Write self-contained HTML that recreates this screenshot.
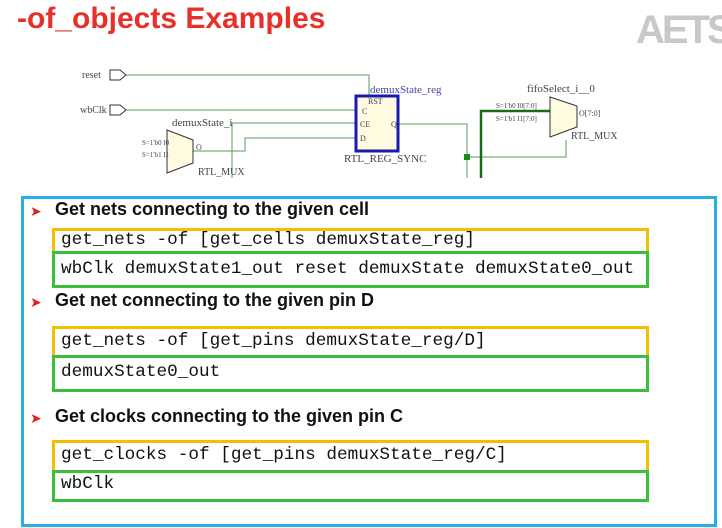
<!DOCTYPE html>
<html><head><meta charset="utf-8"><style>
html,body{margin:0;padding:0;background:#fff;width:722px;height:528px;overflow:hidden;position:relative;font-family:"Liberation Sans",sans-serif}
.t{position:absolute;left:17px;top:2px;font-size:30px;font-weight:bold;color:#e8302a;letter-spacing:0px}
.logo{position:absolute;left:636px;top:8px;font-size:40px;font-weight:bold;color:#c8c8c8;letter-spacing:-3px}
.outer{position:absolute;left:21px;top:196px;width:690px;height:325px;border:3px solid #2aaee8;box-sizing:content-box}
.h{position:absolute;left:55px;font-size:18px;font-weight:bold;color:#111;letter-spacing:0px}
.ar{position:absolute;left:30px;color:#e02020;font-size:14px}
.y{position:absolute;left:52px;width:591px;border:3px solid #f2c000;border-bottom:none}
.g{position:absolute;left:52px;width:591px;border:3px solid #3cc03c}
.m{position:absolute;left:61px;font-family:"Liberation Mono",monospace;font-size:17.7px;color:#111}
</style></head><body>
<div class="t">-of_objects Examples</div>
<div class="logo">AETS</div>
<svg style="position:absolute;left:0;top:0" width="722" height="180" font-family="Liberation Serif,serif" font-size="10" fill="#444">
<g stroke="#5a9a5a" fill="none" stroke-width="1">
<polyline points="126,75 369,75 369,96"/>
<line x1="126" y1="110" x2="356" y2="110"/>
<polyline points="232,178 232,123 356,123"/>
<polyline points="193,151 245,151 245,138 356,138"/>
<polyline points="398,124 467,124 467,178"/>
<polyline points="467,157 566,157 566,140"/>
</g>
<polyline points="481,178 481,111 550,111" stroke="#1a6a1a" stroke-width="2.5" fill="none"/>
<rect x="464" y="154" width="6" height="6" fill="#1a8a1a"/>
<path d="M110,70 h10 l6,5 l-6,5 h-10z" fill="#fff" stroke="#333"/>
<path d="M110,105 h10 l6,5 l-6,5 h-10z" fill="#fff" stroke="#333"/>
<text x="82" y="78">reset</text><text x="80" y="113">wbClk</text>
<rect x="356" y="96" width="42" height="55" fill="#fffbe0" stroke="#1a1ab0" stroke-width="3"/>
<text x="370" y="93" fill="#4444aa" font-size="11">demuxState_reg</text>
<text x="368" y="104" font-size="8">RST</text><text x="362" y="114" font-size="8">C</text><text x="360" y="127" font-size="8">CE</text><text x="360" y="141" font-size="8">D</text><text x="391" y="127" font-size="8">Q</text>
<text x="344" y="162" font-size="11">RTL_REG_SYNC</text>
<path d="M167,130 L193,140 L193,163 L167,173Z" fill="#fffbe0" stroke="#333"/>
<text x="172" y="126" font-size="11">demuxState_i</text><text x="142" y="145" font-size="7">S=1'b0 I0</text><text x="142" y="157" font-size="7">S=1'b1 I1</text><text x="196" y="150" font-size="8">O</text><text x="198" y="175">RTL_MUX</text>
<path d="M550,97 L577,106 L577,127 L550,137Z" fill="#fffbe0" stroke="#333"/>
<text x="527" y="92" font-size="11">fifoSelect_i__0</text><text x="496" y="108" font-size="7">S=1'b0 I0[7:0]</text><text x="496" y="121" font-size="7">S=1'b1 I1[7:0]</text><text x="579" y="116" font-size="8">O[7:0]</text><text x="571" y="139">RTL_MUX</text>
</svg>
<div class="outer"></div>
<div class="ar" style="top:203px">➤</div><div class="h" style="top:199px">Get nets connecting to the given cell</div>
<div class="y" style="top:228px;height:23px"></div>
<div class="g" style="top:251px;height:31px"></div>
<div class="m" style="top:230px">get_nets -of [get_cells demuxState_reg]</div>
<div class="m" style="top:259px">wbClk demuxState1_out reset demuxState demuxState0_out</div>
<div class="ar" style="top:294px">➤</div><div class="h" style="top:290px">Get net connecting to the given pin D</div>
<div class="y" style="top:326px;height:29px"></div>
<div class="g" style="top:355px;height:31px"></div>
<div class="m" style="top:331px">get_nets -of [get_pins demuxState_reg/D]</div>
<div class="m" style="top:362px">demuxState0_out</div>
<div class="ar" style="top:410px">➤</div><div class="h" style="top:406px">Get clocks connecting to the given pin C</div>
<div class="y" style="top:440px;height:30px"></div>
<div class="g" style="top:470px;height:26px"></div>
<div class="m" style="top:445px">get_clocks -of [get_pins demuxState_reg/C]</div>
<div class="m" style="top:474px">wbClk</div>
</body></html>
